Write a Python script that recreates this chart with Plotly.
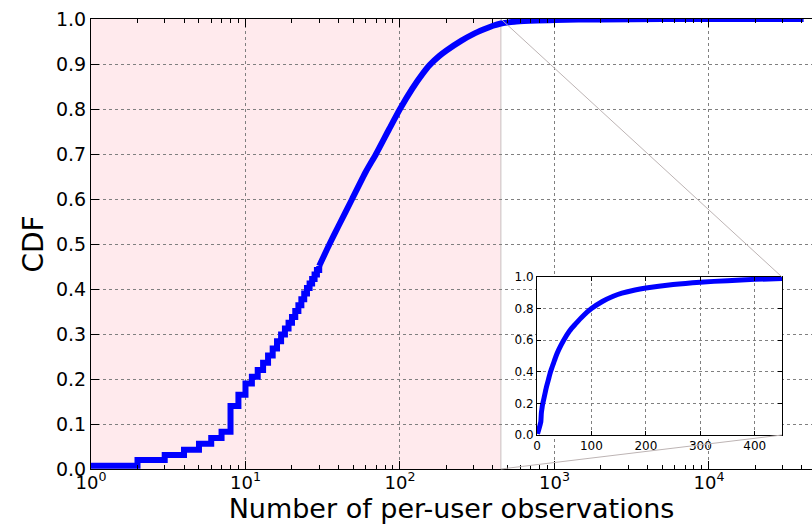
import math
import plotly.graph_objects as go

# ---- data ----
obs_step = [1, 2, 3, 4, 5, 6, 7, 8, 9, 10, 11, 12, 13, 14, 15, 16, 17, 18, 19, 20,
            21, 22, 23, 24, 25, 26, 27, 28, 29, 30]
cdf_step = [0.007, 0.020, 0.031, 0.043, 0.056, 0.069, 0.083, 0.140, 0.165, 0.190,
            0.205, 0.220, 0.236, 0.252, 0.268, 0.284, 0.299, 0.312, 0.325, 0.338,
            0.351, 0.364, 0.377, 0.390, 0.402, 0.412, 0.422, 0.432, 0.442, 0.451]
obs_smooth = [30, 35, 40, 49, 60, 70, 85, 100, 120, 140, 156, 180, 200, 250, 300, 350,
              400, 450, 550, 700, 1000, 2000, 5000, 41000]
cdf_smooth = [0.451, 0.500, 0.540, 0.600, 0.660, 0.700, 0.755, 0.800, 0.845, 0.878,
              0.898, 0.918, 0.930, 0.952, 0.967, 0.977, 0.985, 0.990, 0.994, 0.996,
              0.998, 0.999, 1.000, 1.000]

x_tick_vals = [1, 10, 100, 1000, 10000]
x_tick_text = ["10<sup>0</sup>", "10<sup>1</sup>", "10<sup>2</sup>", "10<sup>3</sup>", "10<sup>4</sup>"]
y_tick_vals = [0.0, 0.1, 0.2, 0.3, 0.4, 0.5, 0.6, 0.7, 0.8, 0.9, 1.0]
inset_x_ticks = [0, 100, 200, 300, 400]
inset_y_ticks = [0.0, 0.2, 0.4, 0.6, 0.8, 1.0]
zoom_limit = 450
x_max_log = 4.667

BLUE = "#0000ff"
PINK = "#ffeaed"
FONT = "DejaVu Sans"

minor_vals = [m * 10 ** d for d in range(0, 5) for m in range(2, 10)]

fig = go.Figure()
fig.add_trace(go.Scatter(x=obs_step, y=cdf_step, mode="lines", line=dict(color=BLUE, width=6, shape="hv"),
                         xaxis="x", yaxis="y", showlegend=False))
fig.add_trace(go.Scatter(x=obs_smooth, y=cdf_smooth, mode="lines",
                         line=dict(color=BLUE, width=6, shape="spline", smoothing=0.6),
                         xaxis="x", yaxis="y", showlegend=False))
fig.add_trace(go.Scatter(x=obs_step + obs_smooth[1:], y=cdf_step + cdf_smooth[1:], mode="lines",
                         line=dict(color=BLUE, width=5, shape="spline", smoothing=0.6),
                         xaxis="x2", yaxis="y2", showlegend=False))

W, H = 812, 524
ml, mt, mb, mr = 91, 19, 55, 0
inset_px = dict(x0=537, x1=782, y0=277, y1=435)
pw, ph = W - ml - mr, H - mt - mb
ix0 = (inset_px["x0"] - ml) / pw
ix1 = (inset_px["x1"] - ml) / pw
iy0 = (H - mb - inset_px["y1"]) / ph
iy1 = (H - mb - inset_px["y0"]) / ph

grid = dict(gridcolor="#808080", griddash="dot", gridwidth=1)

fig.update_layout(
    width=W, height=H,
    margin=dict(l=ml, r=mr, t=mt, b=mb),
    paper_bgcolor="white", plot_bgcolor="white",
    font=dict(family=FONT, color="black"),
    xaxis=dict(type="log", range=[0, x_max_log], domain=[0, 1],
               tickmode="array", tickvals=x_tick_vals, ticktext=x_tick_text,
               tickfont=dict(size=18), ticks="inside", ticklen=8, tickcolor="black",
               ticklabelstandoff=-3,
               showline=True, linecolor="black", linewidth=1, mirror="allticks",
               showgrid=True, **grid, zeroline=False,
               minor=dict(tickmode="array", tickvals=minor_vals, ticks="inside", ticklen=4,
                          tickcolor="black", showgrid=False),
               title=dict(text="Number of per-user observations", font=dict(size=27), standoff=9)),
    yaxis=dict(range=[0, 1], domain=[0, 1], tickmode="array", tickvals=y_tick_vals,
               tickformat=".1f", tickfont=dict(size=19), ticks="inside", ticklen=8, tickcolor="black",
               showline=True, linecolor="black", linewidth=1,
               showgrid=True, **grid, zeroline=False,
               title=dict(text="CDF", font=dict(size=28), standoff=4)),
    xaxis2=dict(range=[0, zoom_limit], domain=[ix0, ix1], anchor="y2",
                tickmode="array", tickvals=inset_x_ticks, tickfont=dict(size=12),
                ticks="inside", ticklen=4, tickcolor="black",
                showline=True, linecolor="black", linewidth=1, mirror="allticks",
                showgrid=True, **grid, zeroline=False),
    yaxis2=dict(range=[0, 1], domain=[iy0, iy1], anchor="x2",
                tickmode="array", tickvals=inset_y_ticks, tickformat=".1f", tickfont=dict(size=12),
                ticks="inside", ticklen=4, tickcolor="black",
                showline=True, linecolor="black", linewidth=1, mirror="allticks",
                showgrid=True, **grid, zeroline=False),
)

# shaded zoom region on main axes and inset background
fig.add_shape(type="rect", xref="x", yref="y", x0=1, x1=zoom_limit, y0=0, y1=1,
              fillcolor=PINK, line=dict(width=0), layer="below")
fig.add_shape(type="line", xref="x", yref="y", x0=zoom_limit, x1=zoom_limit, y0=0, y1=1,
              line=dict(color="#c8c0c0", width=1), layer="below")
fig.add_shape(type="rect", xref="x2 domain", yref="y2 domain", x0=0, x1=1, y0=0, y1=1,
              fillcolor=PINK, line=dict(width=0), layer="below")

# connector lines (mark_inset)
zx = math.log10(zoom_limit) / x_max_log
fig.add_shape(type="line", xref="paper", yref="paper", x0=zx, y0=1, x1=ix1, y1=iy1,
              line=dict(color="#bdb4b4", width=1))
fig.add_shape(type="line", xref="paper", yref="paper", x0=zx, y0=0, x1=ix1, y1=iy0,
              line=dict(color="#bdb4b4", width=1))

fig.write_html("out.html")
